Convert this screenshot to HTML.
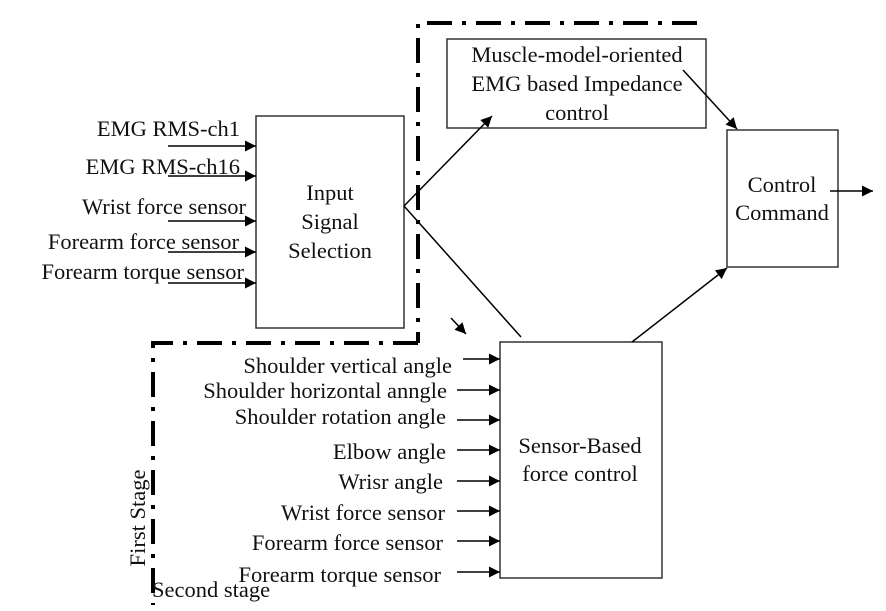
<!DOCTYPE html>
<html><head><meta charset="utf-8"><style>
html,body{margin:0;padding:0;background:#fff;}
svg{display:block;}
text{font-family:"Liberation Serif",serif;font-size:22.5px;fill:#111;}
</style></head><body>
<svg width="886" height="611" viewBox="0 0 886 611" xmlns="http://www.w3.org/2000/svg">
<defs>
<marker id="a" viewBox="0 0 10 10" refX="10" refY="5" markerWidth="15" markerHeight="11" markerUnits="userSpaceOnUse" orient="auto"><path d="M0,0L10,5L0,10z" fill="#000"/></marker>
</defs>
<g fill="none" stroke="#000" stroke-width="4" stroke-dasharray="25 10 4 10">
<path d="M697,23 H418 V343"/>
<path d="M418,343 H153 V605"/>
</g>
<g fill="#fff" stroke="#333" stroke-width="1.5">
<rect x="256" y="116" width="148" height="212"/>
<rect x="447" y="39" width="259" height="89"/>
<rect x="727" y="130" width="111" height="137"/>
<rect x="500" y="342" width="162" height="236"/>
</g>
<g stroke="#000" stroke-width="1.5" marker-end="url(#a)">
<line x1="168" y1="146" x2="256" y2="146"/>
<line x1="168" y1="176" x2="256" y2="176"/>
<line x1="168" y1="221" x2="256" y2="221"/>
<line x1="168" y1="252" x2="256" y2="252"/>
<line x1="168" y1="283" x2="256" y2="283"/>
<line x1="404" y1="206" x2="492" y2="116"/>
<line x1="683" y1="70" x2="737" y2="129"/>
<line x1="632" y1="342" x2="727" y2="268"/>
<line x1="830" y1="191" x2="873" y2="191"/>
<line x1="451" y1="318" x2="466" y2="334"/>
<line x1="463" y1="359" x2="500" y2="359"/>
<line x1="457" y1="390" x2="500" y2="390"/>
<line x1="457" y1="420" x2="500" y2="420"/>
<line x1="457" y1="450" x2="500" y2="450"/>
<line x1="457" y1="481" x2="500" y2="481"/>
<line x1="457" y1="511" x2="500" y2="511"/>
<line x1="457" y1="541" x2="500" y2="541"/>
<line x1="457" y1="572" x2="500" y2="572"/>
</g>
<line x1="404" y1="206" x2="521" y2="337" stroke="#000" stroke-width="1.5"/>
<g text-anchor="end">
<text x="240" y="136">EMG RMS-ch1</text>
<text x="240" y="174">EMG RMS-ch16</text>
<text x="246" y="214">Wrist force sensor</text>
<text x="239" y="249">Forearm force sensor</text>
<text x="244" y="279">Forearm torque sensor</text>
<text x="452" y="373">Shoulder vertical angle</text>
<text x="447" y="398">Shoulder horizontal anngle</text>
<text x="446" y="424">Shoulder rotation angle</text>
<text x="446" y="459">Elbow angle</text>
<text x="443" y="489">Wrisr angle</text>
<text x="445" y="520">Wrist force sensor</text>
<text x="443" y="550">Forearm force sensor</text>
<text x="441" y="582">Forearm torque sensor</text>
</g>
<g text-anchor="middle">
<text x="330" y="200">Input</text>
<text x="330" y="229">Signal</text>
<text x="330" y="258">Selection</text>
<text x="577" y="62">Muscle-model-oriented</text>
<text x="577" y="91">EMG based Impedance</text>
<text x="577" y="120">control</text>
<text x="782" y="192">Control</text>
<text x="782" y="220">Command</text>
<text x="580" y="453">Sensor-Based</text>
<text x="580" y="481">force control</text>
</g>
<text x="152" y="597">Second stage</text>
<text transform="translate(145,518) rotate(-90)" text-anchor="middle">First Stage</text>
</svg>
</body></html>
